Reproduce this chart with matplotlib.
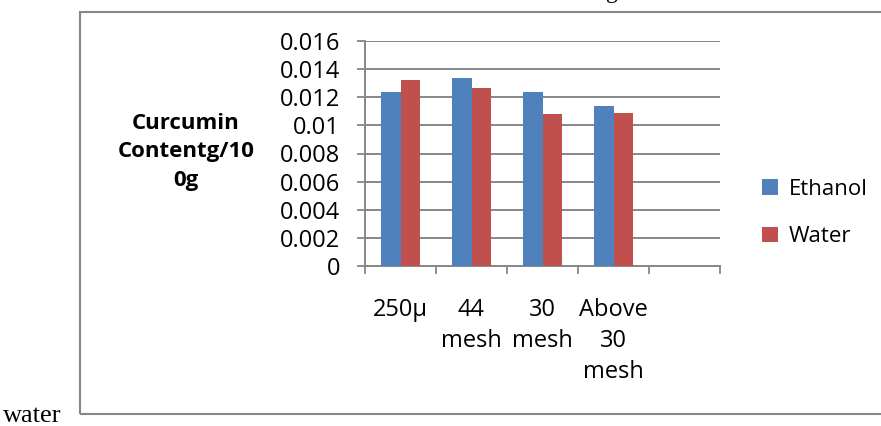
import matplotlib
matplotlib.use("Agg")
import matplotlib.pyplot as plt
from matplotlib.patches import Rectangle

categories = ["250µ", "44\nmesh", "30\nmesh", "Above\n30\nmesh", ""]
ethanol = [0.01235, 0.01335, 0.01235, 0.01135]
water = [0.0132, 0.01265, 0.0108, 0.0109]
yticks = [0, 0.002, 0.004, 0.006, 0.008, 0.01, 0.012, 0.014, 0.016]
ytick_labels = ["0", "0.002", "0.004", "0.006", "0.008", "0.01", "0.012", "0.014", "0.016"]

W, H = 881, 426
plt.rcParams["font.family"] = ["Open Sans", "DejaVu Sans"]
grey = "#868686"

fig = plt.figure(figsize=(W / 100, H / 100), dpi=100)
ax = fig.add_axes([365 / W, (H - 266) / H, (720 - 365) / W, (266 - 41) / H])

bw = 0.28
xs = list(range(len(ethanol)))
ax.bar([x - bw / 2 for x in xs], ethanol, width=bw, color="#4F81BD", label="Ethanol", zorder=3)
ax.bar([x + bw / 2 for x in xs], water, width=bw, color="#C0504D", label="Water", zorder=3)

ax.set_xlim(-0.5, len(categories) - 0.5)
ax.set_ylim(0, 0.016)
ax.set_yticks(yticks)
ax.set_yticklabels(ytick_labels, fontsize=17)
ax.set_xticks(range(len(categories)))
ax.set_xticklabels(categories, fontsize=17, linespacing=1.4)
ax.set_xticks([i - 0.5 for i in range(len(categories) + 1)], minor=True)
ax.tick_params(axis="x", which="major", length=0, pad=23)
ax.tick_params(axis="x", which="minor", length=6, width=1.3, color=grey, direction="out")
ax.tick_params(axis="y", length=6, width=1.3, color=grey, direction="out", pad=12)

ax.yaxis.grid(True, color=grey, linewidth=1.4, zorder=0)
ax.set_axisbelow(True)
for s in ["top", "right"]:
    ax.spines[s].set_visible(False)
for s in ["left", "bottom"]:
    ax.spines[s].set_color(grey)
    ax.spines[s].set_linewidth(1.4)

fig.text(186 / W, 1 - 152 / H, "Curcumin\nContentg/10\n0g", ha="center", va="center",
         fontsize=16, fontweight="bold", linespacing=1.45)

fig.legend(loc="center left", bbox_to_anchor=(762 / W, 1 - 213 / H), frameon=False,
           fontsize=16, handlelength=0.7, handleheight=0.7, handletextpad=0.5,
           labelspacing=1.2, borderpad=0, borderaxespad=0)

fig.patches.append(Rectangle((80 / W, 1 - 414 / H), 1, (414 - 12) / H, fill=False,
                             edgecolor=grey, linewidth=1.5, transform=fig.transFigure))

fig.text(3 / W, 1 - 422 / H, "water", family="Liberation Serif", fontsize=19, va="baseline")
fig.text(606 / W, 1 + 2 / H, "g", family="Liberation Serif", fontsize=17, va="baseline")

fig.savefig("out.png", dpi=100)
